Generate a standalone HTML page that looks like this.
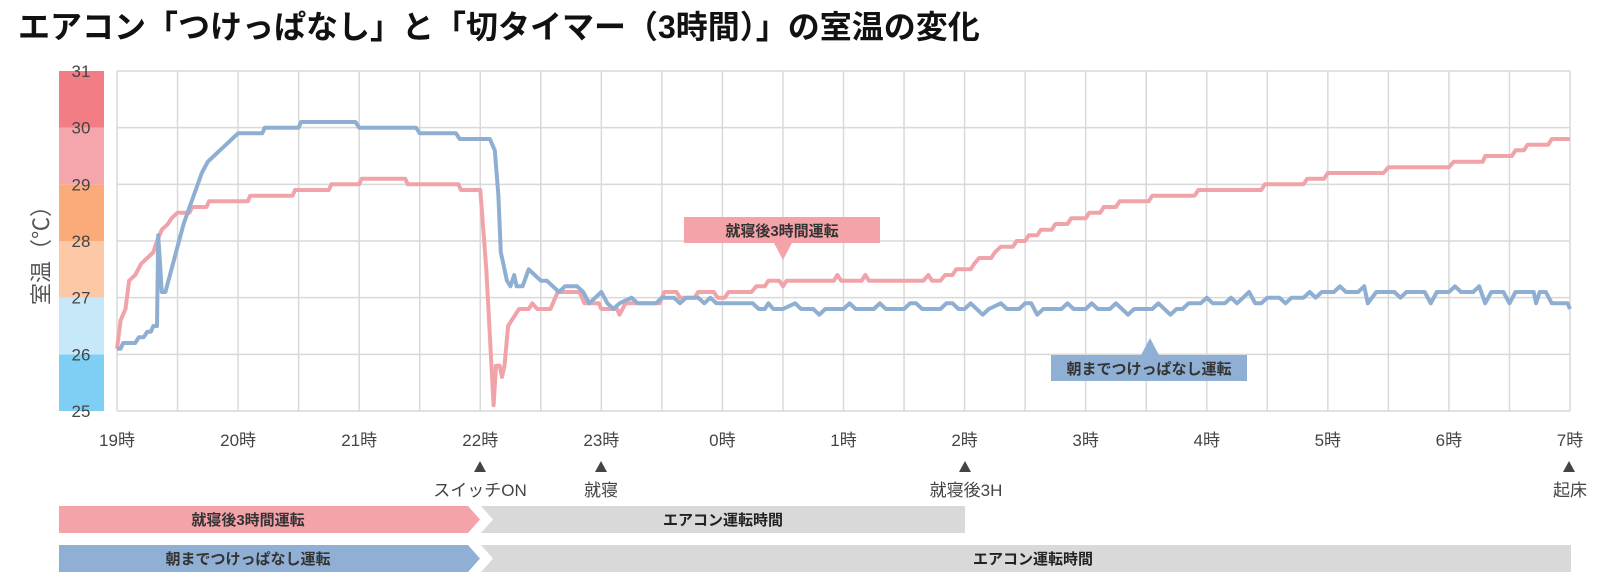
<!DOCTYPE html>
<html><head><meta charset="utf-8"><style>
html,body{margin:0;padding:0;background:#fff;width:1600px;height:581px;overflow:hidden}
svg{display:block;font-family:"Liberation Sans","Noto Sans CJK JP",sans-serif}
</style></head><body>
<svg id="c" width="1600" height="581" viewBox="0 0 1600 581">
<text x="18" y="38" font-size="32" font-weight="bold" fill="#111">エアコン「つけっぱなし」と「切タイマー（3時間）」の室温の変化</text>
<g id="scale"></g><g id="grid"></g><g id="lines"></g><g id="ann"></g>
</svg>
<script>
const hourLabels=["19時","20時","21時","22時","23時","0時","1時","2時","3時","4時","5時","6時","7時"];
const tempTicks=[25,26,27,28,29,30,31];
const bandColors=["#7fcff5","#c6e8f9","#fdc8a6","#fbab79","#f5a6ac","#f27d84"];
const blueT=[0,0.03,0.05,0.15,0.18,0.22,0.25,0.28,0.3,0.33,0.34,0.37,0.4,0.45,0.5,0.55,0.6,0.65,0.7,0.75,0.8,0.85,0.9,0.95,1.0,1.2,1.22,1.5,1.52,1.97,2.0,2.47,2.5,2.8,2.83,3.08,3.12,3.15,3.17,3.19,3.22,3.25,3.28,3.3,3.35,3.4,3.45,3.5,3.55,3.6,3.65,3.7,3.8,3.85,3.9,3.95,4.0,4.05,4.1,4.15,4.25,4.3,4.45,4.5,4.6,4.65,4.7,4.8,4.85,4.9,4.95,5.25,5.3,5.35,5.38,5.42,5.5,5.6,5.65,5.75,5.8,5.85,6.0,6.05,6.1,6.25,6.3,6.35,6.5,6.55,6.6,6.65,6.8,6.85,6.9,6.95,7.0,7.05,7.1,7.15,7.2,7.3,7.35,7.45,7.5,7.55,7.6,7.65,7.8,7.85,7.9,8.0,8.05,8.1,8.2,8.25,8.3,8.35,8.4,8.55,8.6,8.65,8.7,8.75,8.8,8.85,8.95,9.0,9.05,9.15,9.2,9.25,9.3,9.35,9.4,9.45,9.5,9.6,9.65,9.7,9.8,9.85,9.9,9.95,10.05,10.1,10.15,10.25,10.3,10.33,10.4,10.55,10.6,10.65,10.8,10.85,10.9,11.0,11.05,11.1,11.2,11.25,11.3,11.35,11.45,11.5,11.55,11.7,11.72,11.75,11.8,11.85,11.98,12.0];
const blueV=[26.1,26.1,26.2,26.2,26.3,26.3,26.4,26.4,26.5,26.5,28.1,27.1,27.1,27.5,27.9,28.3,28.6,28.9,29.2,29.4,29.5,29.6,29.7,29.8,29.9,29.9,30.0,30.0,30.1,30.1,30.0,30.0,29.9,29.9,29.8,29.8,29.6,28.8,27.8,27.6,27.3,27.2,27.4,27.2,27.2,27.5,27.4,27.3,27.3,27.2,27.1,27.2,27.2,27.1,26.9,27.0,27.1,26.9,26.8,26.9,27.0,26.9,26.9,27.0,27.0,26.9,27.0,27.0,26.9,27.0,26.9,26.9,26.8,26.8,26.9,26.8,26.8,26.9,26.8,26.8,26.7,26.8,26.8,26.9,26.8,26.8,26.9,26.8,26.8,26.9,26.9,26.8,26.8,26.9,26.9,26.8,26.8,26.9,26.8,26.7,26.8,26.9,26.8,26.8,26.9,26.9,26.7,26.8,26.8,26.9,26.8,26.8,26.9,26.8,26.8,26.9,26.8,26.7,26.8,26.8,26.9,26.8,26.7,26.8,26.8,26.9,26.9,27.0,26.9,26.9,27.0,26.9,27.0,27.1,26.9,26.9,27.0,27.0,26.9,27.0,27.0,27.1,27.0,27.1,27.1,27.2,27.1,27.1,27.2,26.9,27.1,27.1,27.0,27.1,27.1,26.9,27.1,27.1,27.2,27.1,27.1,27.2,26.9,27.1,27.1,26.9,27.1,27.1,26.9,27.1,27.1,26.9,26.9,26.8];
const redT=[0,0.03,0.07,0.1,0.15,0.2,0.25,0.3,0.33,0.37,0.42,0.45,0.5,0.6,0.62,0.74,0.76,1.08,1.1,1.45,1.47,1.75,1.77,2.0,2.02,2.38,2.4,2.82,2.84,3.0,3.05,3.11,3.13,3.16,3.18,3.2,3.23,3.26,3.32,3.4,3.43,3.47,3.58,3.6,3.64,3.82,3.86,3.98,4.0,4.13,4.15,4.2,4.48,4.52,4.62,4.65,4.77,4.8,4.93,4.96,5.02,5.05,5.24,5.28,5.35,5.38,5.47,5.5,5.53,5.92,5.95,5.98,6.15,6.18,6.21,6.66,6.7,6.73,6.8,6.84,6.9,6.93,7.05,7.08,7.12,7.22,7.25,7.3,7.4,7.43,7.5,7.53,7.6,7.63,7.72,7.75,7.85,7.88,8.0,8.03,8.12,8.15,8.25,8.28,8.52,8.55,8.9,8.93,9.45,9.48,9.8,9.83,9.97,10.0,10.46,10.5,11.0,11.04,11.28,11.3,11.52,11.55,11.62,11.65,11.82,11.85,12.0];
const redV=[26.1,26.6,26.8,27.3,27.4,27.6,27.7,27.8,28.0,28.2,28.3,28.4,28.5,28.5,28.6,28.6,28.7,28.7,28.8,28.8,28.9,28.9,29.0,29.0,29.1,29.1,29.0,29.0,28.9,28.9,27.5,25.1,25.8,25.8,25.6,25.8,26.5,26.6,26.8,26.8,26.9,26.8,26.8,26.9,27.1,27.1,26.9,26.9,26.8,26.8,26.7,26.9,26.9,27.1,27.1,27.0,27.0,27.1,27.1,27.0,27.0,27.1,27.1,27.2,27.2,27.3,27.3,27.2,27.3,27.3,27.4,27.3,27.3,27.4,27.3,27.3,27.4,27.3,27.3,27.4,27.4,27.5,27.5,27.6,27.7,27.7,27.8,27.9,27.9,28.0,28.0,28.1,28.1,28.2,28.2,28.3,28.3,28.4,28.4,28.5,28.5,28.6,28.6,28.7,28.7,28.8,28.8,28.9,28.9,29.0,29.0,29.1,29.1,29.2,29.2,29.3,29.3,29.4,29.4,29.5,29.5,29.6,29.6,29.7,29.7,29.8,29.8];

const NS="http://www.w3.org/2000/svg";
const L=117,R=1570,T=71,B=411,YMIN=25,YMAX=31,TSPAN=12;
function xS(t){return L+(R-L)*t/TSPAN;}
function yS(v){return B-(B-T)*(v-YMIN)/(YMAX-YMIN);}
function mk(tag,attrs,parent,txt){const e=document.createElementNS(NS,tag);for(const k in attrs)e.setAttribute(k,attrs[k]);if(txt!==undefined)e.textContent=txt;parent.appendChild(e);return e;}
const scale=document.getElementById('scale'),grid=document.getElementById('grid'),lines=document.getElementById('lines'),ann=document.getElementById('ann');

for(let i=0;i<bandColors.length;i++){
  const r=mk('rect',{x:59,y:yS(tempTicks[i+1]),width:45,height:yS(tempTicks[i])-yS(tempTicks[i+1]),fill:bandColors[i]},scale);
  
  
}
for(let h=0;h<=TSPAN*2;h++){
  const x=xS(h/2);
  const g=mk('line',{x1:x,x2:x,y1:T,y2:B,stroke:'#d9d9d9','stroke-width':1.5},grid);
  
  
}
tempTicks.forEach(v=>{
  const y=yS(v);
  const g=mk('line',{x1:L,x2:R,y1:y,y2:y,stroke:'#d9d9d9','stroke-width':1.5},grid);
  
  
  const t=mk('text',{x:81,y:y+6,'font-size':17,'text-anchor':'middle',fill:'#444'},grid,String(v));
  
  
});
const yt=mk('text',{x:0,y:0,'font-size':22,'text-anchor':'middle',fill:'#555',transform:'translate(49,250) rotate(-90)'},grid,'室温（℃）');


hourLabels.forEach((s,i)=>{
  const t=mk('text',{x:xS(i),y:446,'font-size':17,'text-anchor':'middle',fill:'#444'},grid,s);
  
  
});
function pts(ts,vs){return ts.map((t,i)=>xS(t).toFixed(1)+','+yS(vs[i]).toFixed(1)).join(' ');}
const pr=mk('polyline',{points:pts(redT,redV),fill:'none',stroke:'#f0a4a9','stroke-width':4,'stroke-linejoin':'round'},lines);


const pb=mk('polyline',{points:pts(blueT,blueV),fill:'none',stroke:'#8fafd2','stroke-width':4,'stroke-linejoin':'round'},lines);


</script>
<svg style="position:absolute;left:0;top:0" width="1600" height="581" viewBox="0 0 1600 581" font-family="Liberation Sans, Noto Sans CJK JP, sans-serif">
<g>
<rect x="684" y="217" width="196" height="26" fill="#f4a3a8"/>
<polygon points="774,243 792,243 783,260" fill="#f4a3a8"/>
<text x="782" y="236" font-size="15" font-weight="bold" text-anchor="middle" fill="#333">就寝後3時間運転</text>
</g>
<g>
<rect x="1051" y="355" width="196" height="26" fill="#8fb0d4"/>
<polygon points="1141,355 1159,355 1150,338" fill="#8fb0d4"/>
<text x="1149" y="374" font-size="15" font-weight="bold" text-anchor="middle" fill="#333">朝までつけっぱなし運転</text>
</g>
<g fill="#444" font-size="17" text-anchor="middle">
<g><polygon points="474,472 486,472 480,461"/><text x="480" y="496">スイッチON</text></g>
<g><polygon points="595,472 607,472 601,461"/><text x="601" y="496">就寝</text></g>
<g><polygon points="959,472 971,472 965,461"/><text x="966" y="496">就寝後3H</text></g>
<g><polygon points="1563,472 1575,472 1569,461"/><text x="1570" y="496">起床</text></g>
</g>
<g>
<polygon points="59,506 468,506 480,519.5 468,533 59,533" fill="#f4a3a8"/>
<text x="248" y="525" font-size="15" font-weight="bold" text-anchor="middle" fill="#333">就寝後3時間運転</text>
<polygon points="481,506 965,506 965,533 481,533 493,519.5" fill="#d9d9d9"/>
<text x="723" y="525" font-size="15" font-weight="bold" text-anchor="middle" fill="#222">エアコン運転時間</text>
</g>
<g>
<polygon points="59,545 468,545 480,558.5 468,572 59,572" fill="#8fb0d4"/>
<text x="248" y="564" font-size="15" font-weight="bold" text-anchor="middle" fill="#333">朝までつけっぱなし運転</text>
<polygon points="481,545 1571,545 1571,572 481,572 493,558.5" fill="#d9d9d9"/>
<text x="1033" y="564" font-size="15" font-weight="bold" text-anchor="middle" fill="#222">エアコン運転時間</text>
</g>
</svg>
</body></html>
